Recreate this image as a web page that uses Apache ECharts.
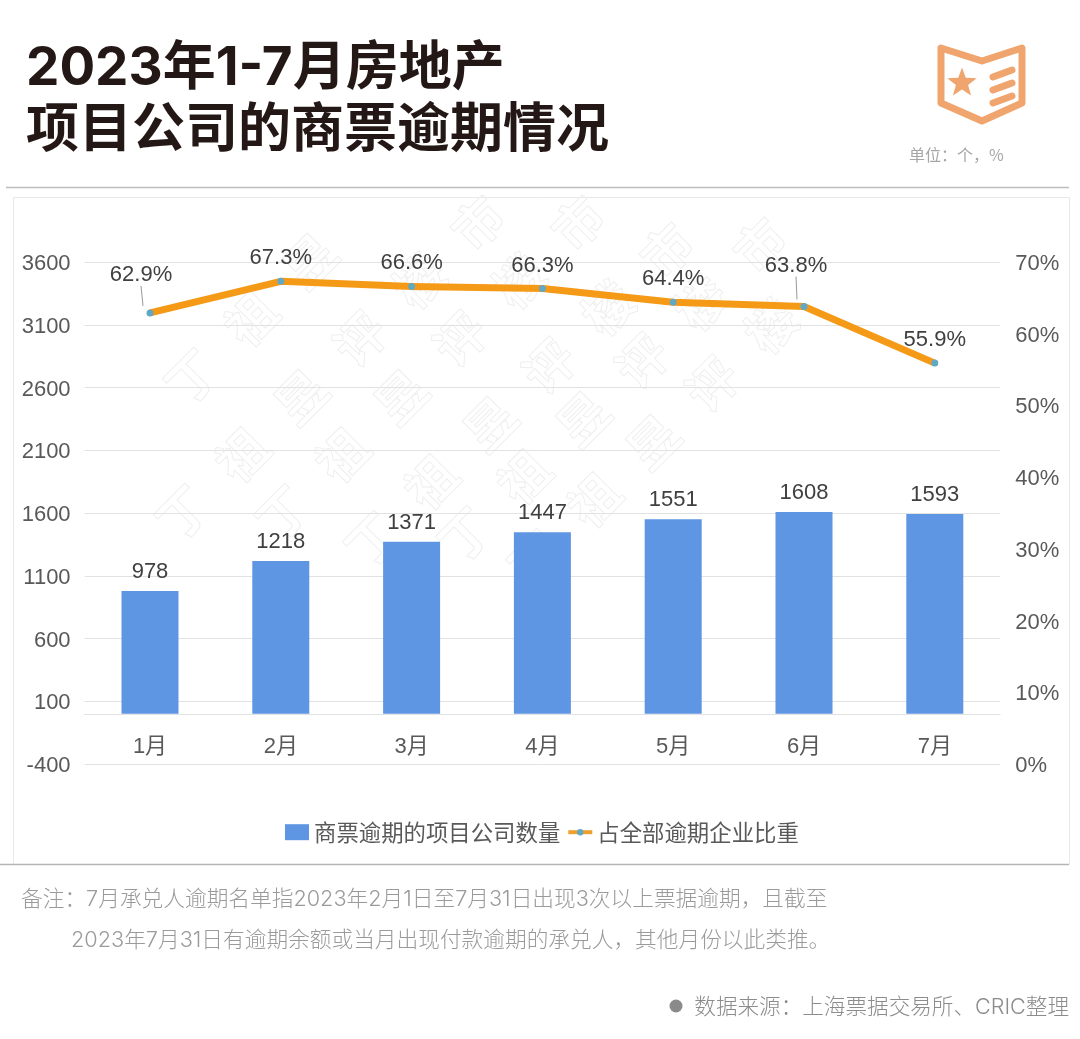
<!DOCTYPE html>
<html><head><meta charset="utf-8">
<style>html,body{margin:0;padding:0;background:#fff}#c{width:1080px;height:1039px}</style>
<script src="https://cdn.jsdelivr.net/npm/echarts@6/dist/echarts.min.js"></script>
</head><body><div id="c"></div>
<script>
const months = ['1月','2月','3月','4月','5月','6月','7月'];
const companyCounts = [978,1218,1371,1447,1551,1608,1593];
const overdueShare = [62.9,67.3,66.6,66.3,64.4,63.8,55.9];
const leftTicks = [-400,100,600,1100,1600,2100,2600,3100,3600];
const barName = '商票逾期的项目公司数量';
const lineName = '占全部逾期企业比重';
const titleLines = '2023年1-7月房地产\n项目公司的商票逾期情况';
const unitText = '单位：个，%';
const noteLine1 = '备注：7月承兑人逾期名单指2023年2月1日至7月31日出现3次以上票据逾期，且截至';
const noteLine2 = '2023年7月31日有逾期余额或当月出现付款逾期的承兑人，其他月份以此类推。';
const sourceText = '数据来源：上海票据交易所、CRIC整理';
const watermarkChars = '丁祖昱评楼市';

const FONT = '"Liberation Sans","Noto Sans CJK SC",sans-serif';
const CJK = '"Noto Sans CJK SC",sans-serif';
const WIDE = 'Inter,"Noto Sans CJK SC",sans-serif';
const labelShift = [[-9,-15],[0,0],[0,0],[0,0],[0,0],[-8,-18],[0,0]];
const guided = [true,false,false,false,false,true,false];
const tickRich = {v:{fontFamily:FONT,fontSize:22,color:'#595959',padding:[4,0,0,0]}};

function watermark(){
  const starts = [[192,377],[183,513],[283,513],[372,540],[465,535],[535,558]];
  const out = [];
  starts.forEach(s=>{
    for(let i=0;i<6;i++){
      const x=s[0]+i*59, y=s[1]-i*58;
      if(y<222||x>800) continue;
      out.push({type:'text',x:x,y:y,rotation:Math.PI/4,z:0,silent:true,
        style:{text:watermarkChars[i],font:'bold 50px '+CJK,fill:'rgba(255,255,255,0)',stroke:'#efefef',lineWidth:1,align:'center',verticalAlign:'middle'}});
    }
  });
  return out;
}
const starPts=[];
for(let i=0;i<10;i++){const r=i%2?6.4:15.5,a=-Math.PI/2+i*Math.PI/5;starPts.push([962+r*Math.cos(a),83+r*Math.sin(a)]);}
const ORANGE='#F0A56E';
const decor=[
 {type:'rect',shape:{x:13.5,y:197.5,width:1056,height:667},style:{fill:'#fff',stroke:'#e8e8e8',lineWidth:1},z:-1,silent:true},
 {type:'line',shape:{x1:6,y1:187.5,x2:1069,y2:187.5},style:{stroke:'#bdbdbd',lineWidth:1.5},silent:true},
 {type:'line',shape:{x1:0,y1:864.5,x2:1069,y2:864.5},style:{stroke:'#b5b5b5',lineWidth:1.5},silent:true},
 {type:'polygon',shape:{points:[[941,48],[982,61],[1022,48],[1022,103],[982,121],[941,103]]},style:{fill:'none',stroke:ORANGE,lineWidth:7,lineJoin:'round'},silent:true},
 {type:'polygon',shape:{points:starPts},style:{fill:ORANGE},silent:true},
 {type:'line',shape:{x1:993,y1:77,x2:1012,y2:70},style:{stroke:ORANGE,lineWidth:7,lineCap:'round'},silent:true},
 {type:'line',shape:{x1:993,y1:90,x2:1012,y2:83},style:{stroke:ORANGE,lineWidth:7,lineCap:'round'},silent:true},
 {type:'line',shape:{x1:993,y1:103,x2:1012,y2:96},style:{stroke:ORANGE,lineWidth:7,lineCap:'round'},silent:true},
 {type:'text',x:909,y:155,style:{text:unitText,font:'16px '+CJK,fill:'#a6a6a6',verticalAlign:'middle'},silent:true},
 {type:'text',x:21,y:899,style:{text:noteLine1,font:'300 21.7px '+WIDE,fill:'#9a9a9a',verticalAlign:'middle'},silent:true},
 {type:'text',x:71,y:940,style:{text:noteLine2,font:'300 21.7px '+WIDE,fill:'#9a9a9a',verticalAlign:'middle'},silent:true},
 {type:'circle',shape:{cx:676,cy:1006,r:6.5},style:{fill:'#8a8a8a'},silent:true},
 {type:'text',x:1069,y:1007,style:{text:sourceText,font:'300 21.6px '+WIDE,fill:'#8c8c8c',align:'right',verticalAlign:'middle'},silent:true}
];

const chart=echarts.init(document.getElementById('c'),null,{renderer:'canvas'});
chart.setOption({
  animation:false,
  backgroundColor:'#fff',
  title:{text:titleLines,left:21,top:33,textStyle:{fontFamily:WIDE,fontWeight:'bold',fontSize:53,lineHeight:62,color:'#231815'}},
  graphic:{elements:decor.concat(watermark())},
  legend:{
    top:816,left:280,itemGap:6,itemWidth:24,itemHeight:16,
    textStyle:{fontFamily:CJK,fontSize:22.4,color:'#595959'},
    data:[{name:barName,icon:'rect'},
      {name:lineName,lineStyle:{width:4,color:'#EFA02B'},itemStyle:{color:'#62A8C4'}}]
  },
  grid:{left:84.6,right:79.8,top:262,bottom:275,containLabel:false},
  xAxis:{type:'category',data:months,
    axisLine:{show:true,onZero:true,lineStyle:{color:'#e2e2e2',width:1}},
    axisTick:{show:false},
    axisLabel:{fontFamily:FONT,fontSize:22,color:'#595959',margin:-28}},
  yAxis:[
    {type:'value',min:-400,max:3600,
      axisLine:{show:false},
      axisTick:{show:false,customValues:leftTicks},
      axisLabel:{customValues:leftTicks,formatter:v=>'{v|'+v+'}',rich:tickRich,margin:14},
      splitLine:{show:true,lineStyle:{color:'#e2e2e2',width:1}}},
    {type:'value',min:0,max:70,interval:10,
      axisLine:{show:false},axisTick:{show:false},splitLine:{show:false},
      axisLabel:{formatter:v=>'{v|'+v+'%}',rich:tickRich,margin:15}}
  ],
  series:[
    {type:'bar',name:barName,data:companyCounts,barWidth:57,z:3,
      itemStyle:{color:'#5F96E3'},
      label:{show:true,position:'top',distance:8,fontFamily:FONT,fontSize:22,color:'#404040'}},
    {type:'line',name:lineName,yAxisIndex:1,
      data:overdueShare.map((v,i)=>({value:v,labelLine:{show:guided[i]}})),
      symbol:'path://M0,0h.01v.01z M100,100h.01v.01z M50,25a25,25 0 1,0 .01,0z',symbolSize:14,showSymbol:true,z:4,
      lineStyle:{color:'#F59A17',width:7,join:'round'},
      itemStyle:{color:'#62A8C4',borderWidth:0},
      label:{show:true,position:'top',distance:5,formatter:p=>p.value.toFixed(1)+'%',fontFamily:FONT,fontSize:22,color:'#404040'},
      labelLine:{show:true,lineStyle:{color:'#999',width:1}},
      labelLayout:p=>({dx:labelShift[p.dataIndex][0],dy:labelShift[p.dataIndex][1]})}
  ]
});
</script></body></html>
